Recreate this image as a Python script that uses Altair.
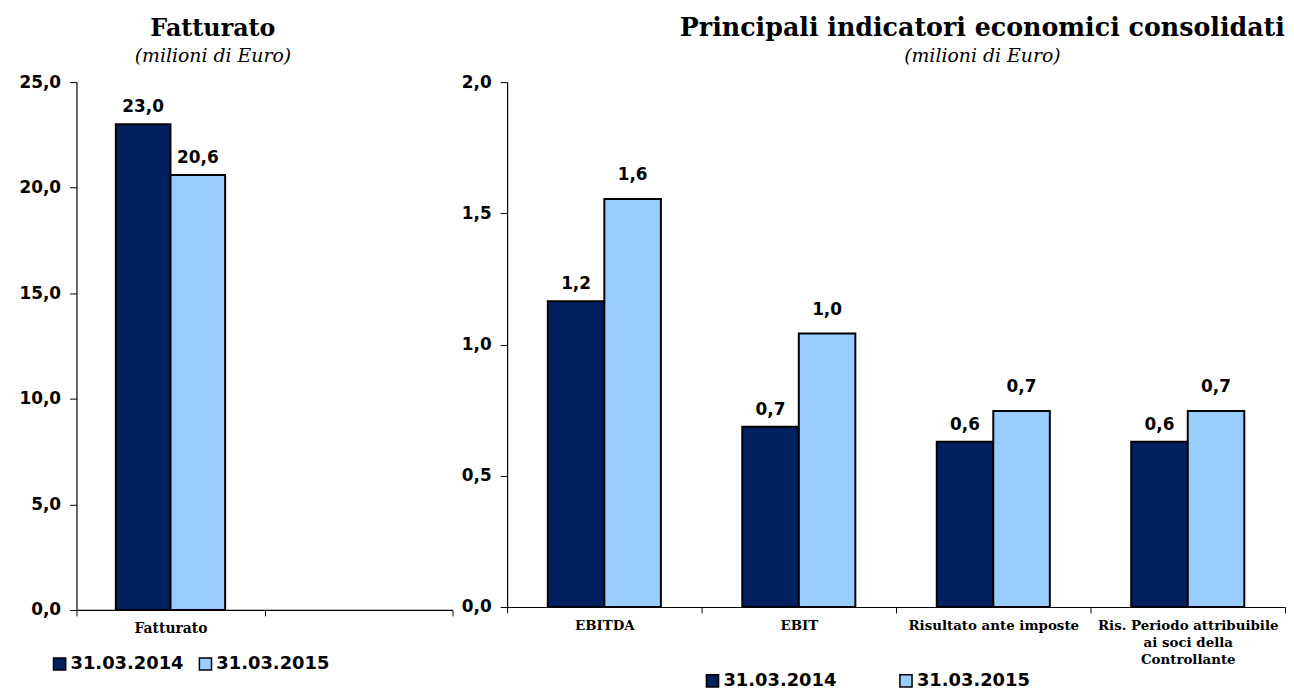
import altair as alt
import pandas as pd

series = ["31.03.2014", "31.03.2015"]
colors = ["#002060", "#99CCFF"]

left_categories = ["Fatturato"]
left_2014 = [23.0]
left_2015 = [20.6]
left_ticks = [0, 5, 10, 15, 20, 25]

right_categories = ["EBITDA", "EBIT", "Risultato ante imposte",
                    "Ris. Periodo attribuibile\nai soci della\nControllante"]
right_2014 = [1.165, 0.687, 0.630, 0.630]
right_2015 = [1.555, 1.042, 0.747, 0.747]
right_ticks = [0, 0.5, 1.0, 1.5, 2.0]


def long_df(cats, a, b):
    rows = []
    for c, v1, v2 in zip(cats, a, b):
        rows.append({"category": c, "series": series[0], "value": v1})
        rows.append({"category": c, "series": series[1], "value": v2})
    return pd.DataFrame(rows)


def panel(df, domain, ymax, ticks, width, height, title, title_size, title_dx,
          legend_x, legend_y, col_pad, dark_dy, light_dy, label_size):
    x = alt.X("category:N", sort=domain,
              scale=alt.Scale(domain=domain, paddingInner=0, paddingOuter=0),
              axis=alt.Axis(title=None, labelAngle=0, tickBand="extent",
                            labelExpr="datum.label == '_' ? '' : split(datum.label, '\\n')",
                            labelFont="DejaVu Serif", labelFontWeight="bold",
                            labelFontSize=label_size, labelLineHeight=17,
                            labelLimit=400,
                            labelPadding=6, tickSize=6, labelBound=False,
                            labelOverlap=False, labelBaseline="top"))
    xo = alt.XOffset("series:N", sort=series,
                     scale=alt.Scale(domain=series, paddingOuter=0.72, paddingInner=0))
    y = alt.Y("value:Q", scale=alt.Scale(domain=[0, ymax], nice=False),
              axis=alt.Axis(title=None, values=ticks, grid=False,
                            labelExpr="replace(format(datum.value, '.1f'), '.', ',')",
                            labelFont="DejaVu Sans", labelFontWeight="bold",
                            labelFontSize=17, labelPadding=9, tickSize=7))
    base = alt.Chart(df)
    bars = base.mark_bar(stroke="black", strokeWidth=2).encode(
        x=x, xOffset=xo, y=y,
        color=alt.Color("series:N",
                        scale=alt.Scale(domain=series, range=colors),
                        legend=alt.Legend(title=None, orient="none",
                                          legendX=legend_x, legendY=legend_y,
                                          direction="horizontal",
                                          columnPadding=col_pad,
                                          symbolType="square", symbolSize=150,
                                          symbolStrokeColor="black",
                                          symbolStrokeWidth=1.5,
                                          symbolOpacity=1,
                                          labelFont="DejaVu Sans",
                                          labelFontWeight="bold",
                                          labelFontSize=18,
                                          labelColor="black",
                                          labelOffset=2)))
    texts = []
    for s, dy in zip(series, [dark_dy, light_dy]):
        t = base.transform_filter(alt.datum.series == s).transform_calculate(
            lbl="replace(format(datum.value, '.1f'), '.', ',')"
        ).mark_text(font="DejaVu Sans", fontWeight="bold", fontSize=17,
                    baseline="bottom", dy=-dy, color="black").encode(
            x=alt.X("category:N", sort=domain, scale=alt.Scale(domain=domain)),
            xOffset=alt.XOffset("series:N", sort=series,
                                scale=alt.Scale(domain=series)),
            y=alt.Y("value:Q"),
            text="lbl:N")
        texts.append(t)
    return alt.layer(bars, *texts).properties(
        width=width, height=height,
        title=alt.TitleParams(text=title, subtitle="(milioni di Euro)",
                              font="DejaVu Serif", fontSize=title_size,
                              fontWeight="bold", color="black",
                              subtitleFont="DejaVu Serif", subtitleFontSize=19,
                              subtitleFontStyle="italic", subtitleColor="black",
                              subtitlePadding=6,
                              anchor="middle", dx=title_dx, offset=7))


left_df = long_df(left_categories, left_2014, left_2015)
right_df = long_df(right_categories, right_2014, right_2015)

left = panel(left_df, left_categories + ["_"], 25, left_ticks, 379, 532,
             "Fatturato", 24, -52, -26, 577, 12, 8, 8, 14)
right = panel(right_df, right_categories, 2.0, right_ticks, 784, 529,
              "Principali indicatori economici consolidati", 25.5, 87, 198, 594, 60,
              8, 15, 13.5)

chart = alt.hconcat(left, right, spacing=7).resolve_legend(
    color="independent").resolve_scale(x="independent", xOffset="independent",
                                       y="independent").configure_view(
    stroke=None).configure_axis(domainColor="black", tickColor="black",
                                labelColor="black", domainWidth=1.2).properties(
    padding={"left": 11, "top": 5, "right": 0, "bottom": 0})

chart.save("out.html", embed_options={"renderer": "svg", "actions": False})
